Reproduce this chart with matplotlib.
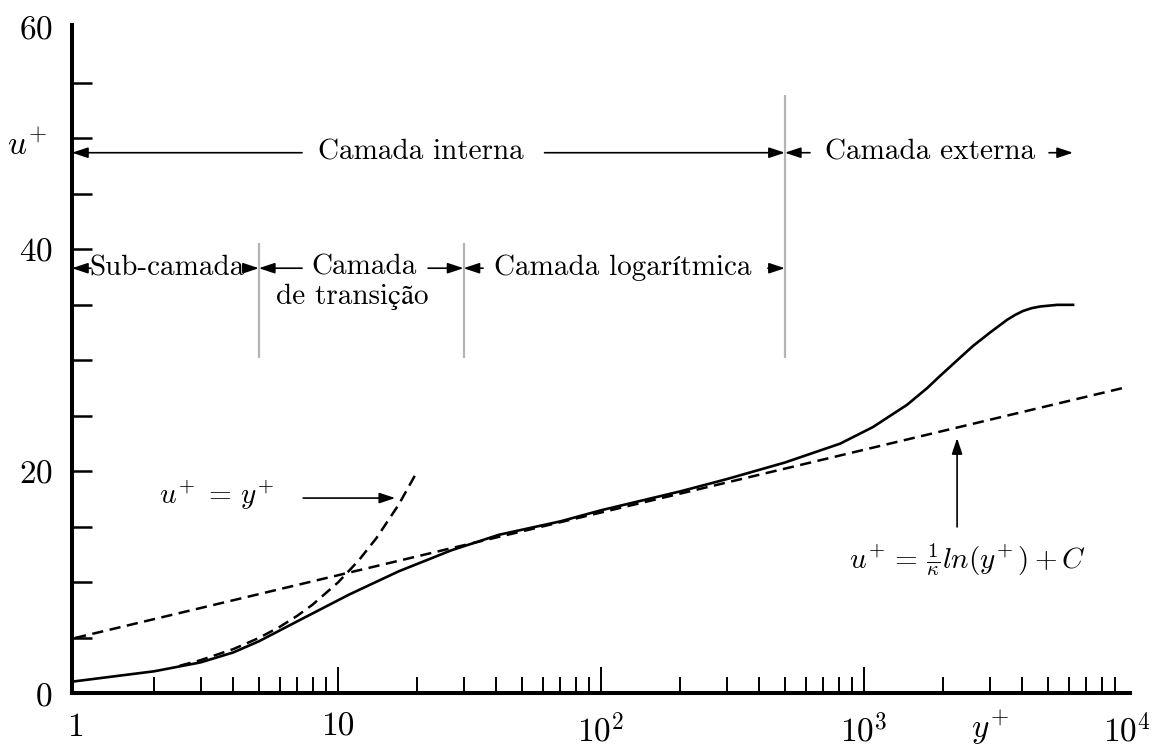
import matplotlib
matplotlib.use("Agg")
import matplotlib.pyplot as plt
from matplotlib.ticker import FixedLocator, FixedFormatter, NullFormatter

plt.rcParams['font.family'] = ['cmr10', 'STIXGeneral']
plt.rcParams['mathtext.fontset'] = 'cm'
plt.rcParams['axes.formatter.use_mathtext'] = True

# velocity profile (solid)
y_profile = [1, 2, 3, 4, 5, 7, 11, 17, 27, 41, 70, 100, 200, 300, 500, 811,
             1082, 1457, 1737, 1945, 2258, 2596, 3011, 3497, 3758, 4025, 4335, 4670, 5420, 6233]
u_profile = [1.1, 2.0, 2.8, 3.7, 4.7, 6.5, 8.9, 11.0, 12.9, 14.3, 15.5, 16.5, 18.2, 19.3, 20.8, 22.5,
             24.0, 26.0, 27.5, 28.6, 30.0, 31.3, 32.5, 33.65, 34.1, 34.45, 34.7, 34.85, 35.0, 35.0]

# viscous sublayer law u+ = y+ (dashed)
y_visc = [2.5, 3, 4, 5, 6, 7, 8, 10, 12, 14, 17, 20]
u_visc = [2.5, 3, 4, 5, 6, 7, 8, 10, 12, 14, 17, 20]

# log law (dashed)
y_log = [1, 10000]
u_log = [5.0, 27.6]

# region boundaries (grey lines): y+, bottom, top
bound_y = [5, 30, 500]
bound_lo = [30.2, 30.2, 30.2]
bound_hi = [40.6, 40.6, 53.9]

x_ticks = [1, 10, 100, 1000, 10000]
x_labels = ['1', '10', '$10^2$', '$10^3$', '$10^4$']
y_ticks = [0, 20, 40, 60]

fig = plt.figure(figsize=(11.54, 7.49), dpi=100)
ax = fig.add_axes([0.0624, 0.0741, 0.9168, 0.8925])

ax.plot(y_profile, u_profile, color='k', lw=1.9)
ax.plot(y_visc, u_visc, color='k', lw=1.8, ls=(0, (4.5, 2.6)))
ax.plot(y_log, u_log, color='k', lw=1.8, ls=(0, (4.5, 2.6)))
ax.vlines(bound_y, bound_lo, bound_hi, color='#b4b4b4', lw=1.6)

ax.set_xscale('log')
ax.set_xlim(0.974, 10260)
ax.set_ylim(0, 60.2)

for s in ['top', 'right']:
    ax.spines[s].set_visible(False)
for s in ['left', 'bottom']:
    ax.spines[s].set_linewidth(2.9)

ax.xaxis.set_major_locator(FixedLocator(x_ticks))
ax.xaxis.set_major_formatter(FixedFormatter(x_labels))
ax.xaxis.set_minor_locator(FixedLocator([m * 10 ** k for k in range(4) for m in range(2, 10)]))
ax.xaxis.set_minor_formatter(NullFormatter())
ax.yaxis.set_major_locator(FixedLocator(y_ticks))
ax.yaxis.set_minor_locator(FixedLocator(list(range(5, 60, 5))))
ax.yaxis.set_minor_formatter(NullFormatter())

ax.tick_params(axis='x', which='major', direction='in', length=18.5, width=1.4, labelsize=24, pad=14)
ax.tick_params(axis='x', which='minor', direction='in', length=11.5, width=1.4)
ax.tick_params(axis='y', which='both', direction='in', length=14.5, width=1.8, labelsize=24, pad=14)
xt = ax.xaxis.get_major_ticks()
xt[0].tick1line.set_visible(False)
xt[-1].tick1line.set_visible(False)
yt = ax.yaxis.get_major_ticks()
yt[-1].tick1line.set_visible(False)

ax.text(-0.042, 0.82, r'$u^{\!+}$', transform=ax.transAxes, fontsize=24, ha='center', va='center')
ax.text(0.868, -0.052, r'$y^{\!+}$', transform=ax.transAxes, fontsize=24, ha='center', va='center')

arrow = dict(arrowstyle='-|>,head_length=0.6,head_width=0.2', color='k', lw=1.2,
             mutation_scale=16, shrinkA=0, shrinkB=0)


def arr(x0, y0, x1, y1):
    ax.annotate('', xy=(x1, y1), xytext=(x0, y0), arrowprops=arrow)


fs = 21
# row 1
arr(7.3, 48.7, 0.974, 48.7)
ax.text(20.7, 48.7, 'Camada interna', fontsize=fs, ha='center', va='center')
arr(61, 48.7, 500, 48.7)
arr(623, 48.7, 500, 48.7)
ax.text(1782, 48.7, 'Camada externa', fontsize=fs, ha='center', va='center')
arr(5050, 48.7, 6230, 48.7)

# row 2
arr(1.15, 38.3, 0.974, 38.3)
ax.text(2.24, 38.3, 'Sub-camada', fontsize=fs, ha='center', va='center')
arr(4.35, 38.3, 5, 38.3)
arr(7.3, 38.3, 5, 38.3)
ax.text(12.6, 38.4, 'Camada', fontsize=fs, ha='center', va='center')
ax.text(11.3, 35.7, 'de transição', fontsize=fs, ha='center', va='center')
arr(22, 38.3, 30, 38.3)
arr(35.6, 38.3, 30, 38.3)
ax.text(121, 38.3, 'Camada logarítmica', fontsize=fs, ha='center', va='center')
arr(431, 38.3, 500, 38.3)

# equations
ax.text(3.47, 17.9, r'$u^{\!+}\,=\,y^{\!+}$', fontsize=fs, ha='center', va='center')
arr(7.37, 17.6, 16.5, 17.6)
ax.text(2465, 12.0, r'$u^{\!+} =\, \frac{1}{\kappa}ln(y^{\!+}) + C$', fontsize=fs, ha='center', va='center')
arr(2258, 15.0, 2258, 23.0)

fig.savefig('out.png', dpi=100)
